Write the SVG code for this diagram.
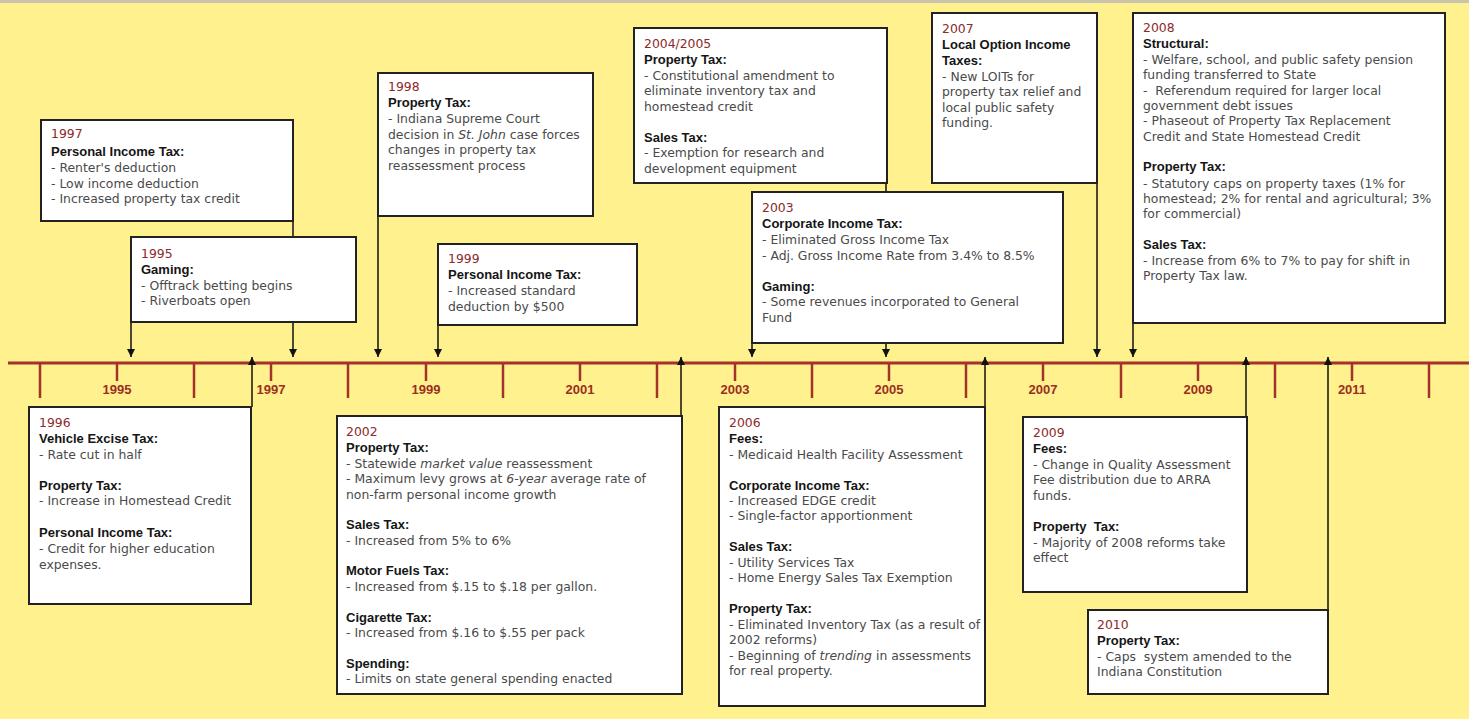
<svg xmlns="http://www.w3.org/2000/svg" width="1469" height="719" viewBox="0 0 1469 719">
<defs>
<marker id="ah" viewBox="0 0 10 10" refX="10" refY="5" markerWidth="8" markerHeight="8" markerUnits="userSpaceOnUse" orient="auto"><path d="M0,0 L10,5 L0,10 z" fill="#111"/></marker>
<style>
.box{fill:#fff;stroke:#222;stroke-width:2}
.t{font-family:"DejaVu Sans","Liberation Sans",sans-serif;font-size:12.4px;fill:#4a4a4a}
.y{fill:#8c2a2a}
.h{fill:#151515;font-weight:bold;font-family:"Liberation Sans",Arial,sans-serif;font-size:13px}
.i{font-style:italic}
.con{stroke:#111;stroke-width:1.5;fill:none;marker-end:url(#ah)}
.axis{stroke:#a3322a;stroke-width:3}
.tick{stroke:#a3322a;stroke-width:2.5}
.yl{font-family:"Liberation Sans",Arial,sans-serif;font-size:13px;font-weight:bold;fill:#9a2f22;text-anchor:middle}
</style>
</defs>
<rect x="0" y="0" width="1469" height="719" fill="#fff18e"/>
<line x1="0" y1="1.5" x2="1469" y2="1.5" stroke="#c8c4b0" stroke-width="3"/>
<g id="timeline">
<line class="axis" x1="8" y1="363" x2="1469" y2="363"/>
<g class="tick">
<line x1="40" y1="363" x2="40" y2="398"/><line x1="194" y1="363" x2="194" y2="398"/><line x1="348" y1="363" x2="348" y2="398"/><line x1="503" y1="363" x2="503" y2="398"/><line x1="657" y1="363" x2="657" y2="398"/><line x1="812" y1="363" x2="812" y2="398"/><line x1="966" y1="363" x2="966" y2="398"/><line x1="1121" y1="363" x2="1121" y2="398"/><line x1="1275" y1="363" x2="1275" y2="398"/><line x1="1429" y1="363" x2="1429" y2="398"/>
<line x1="117" y1="363" x2="117" y2="381"/><line x1="271" y1="363" x2="271" y2="381"/><line x1="426" y1="363" x2="426" y2="381"/><line x1="580" y1="363" x2="580" y2="381"/><line x1="735" y1="363" x2="735" y2="381"/><line x1="889" y1="363" x2="889" y2="381"/><line x1="1043" y1="363" x2="1043" y2="381"/><line x1="1198" y1="363" x2="1198" y2="381"/><line x1="1352" y1="363" x2="1352" y2="381"/>
</g>
<text class="yl" x="117" y="394">1995</text><text class="yl" x="271" y="394">1997</text><text class="yl" x="426" y="394">1999</text><text class="yl" x="580" y="394">2001</text><text class="yl" x="735" y="394">2003</text><text class="yl" x="889" y="394">2005</text><text class="yl" x="1043" y="394">2007</text><text class="yl" x="1198" y="394">2009</text><text class="yl" x="1352" y="394">2011</text>
</g>
<g id="connectors">
<line class="con" x1="293" y1="221" x2="293" y2="357"/>
<line class="con" x1="131" y1="322" x2="131" y2="357"/>
<line class="con" x1="378" y1="216" x2="378" y2="357"/>
<line class="con" x1="438" y1="325" x2="438" y2="357"/>
<line class="con" x1="886" y1="183" x2="886" y2="357"/>
<line class="con" x1="752" y1="343" x2="752" y2="357"/>
<line class="con" x1="1097" y1="183" x2="1097" y2="357"/>
<line class="con" x1="1133" y1="323" x2="1133" y2="357"/>
<line class="con" x1="252" y1="407" x2="252" y2="357"/>
<line class="con" x1="681" y1="416" x2="681" y2="357"/>
<line class="con" x1="985" y1="407" x2="985" y2="357"/>
<line class="con" x1="1246" y1="417" x2="1246" y2="357"/>
<line class="con" x1="1328" y1="610" x2="1328" y2="357"/>
</g>
<g id="n1997">
<rect class="box" x="41" y="120" width="252" height="101"/>
<text class="t" x="51" y="138"><tspan class="y">1997</tspan><tspan class="h" x="51" dy="18">Personal Income Tax:</tspan><tspan x="51" dy="16">- Renter's deduction</tspan><tspan x="51" dy="15.5">- Low income deduction</tspan><tspan x="51" dy="15.5">- Increased property tax credit</tspan></text>
</g>
<g id="n1995">
<rect class="box" x="131" y="237" width="225" height="85"/>
<text class="t" x="141" y="258"><tspan class="y">1995</tspan><tspan class="h" x="141" dy="16">Gaming:</tspan><tspan x="141" dy="15.5">- Offtrack betting begins</tspan><tspan x="141" dy="15.5">- Riverboats open</tspan></text>
</g>
<g id="n1998">
<rect class="box" x="378" y="73" width="215" height="143"/>
<text class="t" x="388" y="91"><tspan class="y">1998</tspan><tspan class="h" x="388" dy="16">Property Tax:</tspan><tspan x="388" dy="16">- Indiana Supreme Court</tspan><tspan x="388" dy="15.5">decision in <tspan class="i">St. John</tspan> case forces</tspan><tspan x="388" dy="15.5">changes in property tax</tspan><tspan x="388" dy="15.5">reassessment process</tspan></text>
</g>
<g id="n1999">
<rect class="box" x="438" y="244" width="199" height="81"/>
<text class="t" x="448" y="263"><tspan class="y">1999</tspan><tspan class="h" x="448" dy="16">Personal Income Tax:</tspan><tspan x="448" dy="16">- Increased standard</tspan><tspan x="448" dy="16">deduction by $500</tspan></text>
</g>
<g id="n2004">
<rect class="box" x="634" y="28" width="253" height="155"/>
<text class="t" x="644" y="48"><tspan class="y">2004/2005</tspan><tspan class="h" x="644" dy="16">Property Tax:</tspan><tspan x="644" dy="15.5">- Constitutional amendment to</tspan><tspan x="644" dy="15.5">eliminate inventory tax and</tspan><tspan x="644" dy="15.5">homestead credit</tspan><tspan class="h" x="644" dy="31">Sales Tax:</tspan><tspan x="644" dy="15.5">- Exemption for research and</tspan><tspan x="644" dy="15.5">development equipment</tspan></text>
</g>
<g id="n2003">
<rect class="box" x="752" y="192" width="311" height="151"/>
<text class="t" x="762" y="212"><tspan class="y">2003</tspan><tspan class="h" x="762" dy="16">Corporate Income Tax:</tspan><tspan x="762" dy="16">- Eliminated Gross Income Tax</tspan><tspan x="762" dy="15.5">- Adj. Gross Income Rate from 3.4% to 8.5%</tspan><tspan class="h" x="762" dy="31">Gaming:</tspan><tspan x="762" dy="15.5">- Some revenues incorporated to General</tspan><tspan x="762" dy="15.5">Fund</tspan></text>
</g>
<g id="n2007">
<rect class="box" x="932" y="13" width="165" height="170"/>
<text class="t" x="942" y="33"><tspan class="y">2007</tspan><tspan class="h" x="942" dy="16">Local Option Income</tspan><tspan class="h" x="942" dy="16">Taxes:</tspan><tspan x="942" dy="15.5">- New LOITs for</tspan><tspan x="942" dy="15.5">property tax relief and</tspan><tspan x="942" dy="15.5">local public safety</tspan><tspan x="942" dy="15.5">funding.</tspan></text>
</g>
<g id="n2008">
<rect class="box" x="1133" y="13" width="312" height="310"/>
<text class="t" x="1143" y="32" xml:space="preserve"><tspan class="y">2008</tspan><tspan class="h" x="1143" dy="16">Structural:</tspan><tspan x="1143" dy="16">- Welfare, school, and public safety pension</tspan><tspan x="1143" dy="15.3">funding transferred to State</tspan><tspan x="1143" dy="15.3">-  Referendum required for larger local</tspan><tspan x="1143" dy="15.3">government debt issues</tspan><tspan x="1143" dy="15.3">- Phaseout of Property Tax Replacement</tspan><tspan x="1143" dy="15.3">Credit and State Homestead Credit</tspan><tspan class="h" x="1143" dy="30.5">Property Tax:</tspan><tspan x="1143" dy="16.5">- Statutory caps on property taxes (1% for</tspan><tspan x="1143" dy="15.3">homestead; 2% for rental and agricultural; 3%</tspan><tspan x="1143" dy="15.3">for commercial)</tspan><tspan class="h" x="1143" dy="30.5">Sales Tax:</tspan><tspan x="1143" dy="16">- Increase from 6% to 7% to pay for shift in</tspan><tspan x="1143" dy="15.3">Property Tax law.</tspan></text>
</g>
<g id="n1996">
<rect class="box" x="29" y="407" width="222" height="197"/>
<text class="t" x="39" y="427"><tspan class="y">1996</tspan><tspan class="h" x="39" dy="16">Vehicle Excise Tax:</tspan><tspan x="39" dy="15.5">- Rate cut in half</tspan><tspan class="h" x="39" dy="31">Property Tax:</tspan><tspan x="39" dy="15.5">- Increase in Homestead Credit</tspan><tspan class="h" x="39" dy="32">Personal Income Tax:</tspan><tspan x="39" dy="16">- Credit for higher education</tspan><tspan x="39" dy="15.5">expenses.</tspan></text>
</g>
<g id="n2002">
<rect class="box" x="337" y="416" width="345" height="278"/>
<text class="t" x="346" y="436"><tspan class="y">2002</tspan><tspan class="h" x="346" dy="16">Property Tax:</tspan><tspan x="346" dy="16">- Statewide <tspan class="i">market value</tspan> reassessment</tspan><tspan x="346" dy="15.3">- Maximum levy grows at <tspan class="i">6-year</tspan> average rate of</tspan><tspan x="346" dy="15.3">non-farm personal income growth</tspan><tspan class="h" x="346" dy="30.7">Sales Tax:</tspan><tspan x="346" dy="15.3">- Increased from 5% to 6%</tspan><tspan class="h" x="346" dy="30.7">Motor Fuels Tax:</tspan><tspan x="346" dy="15.3">- Increased from $.15 to $.18 per gallon.</tspan><tspan class="h" x="346" dy="31.5">Cigarette Tax:</tspan><tspan x="346" dy="15.3">- Increased from $.16 to $.55 per pack</tspan><tspan class="h" x="346" dy="30.7">Spending:</tspan><tspan x="346" dy="15.3">- Limits on state general spending enacted</tspan></text>
</g>
<g id="n2006">
<rect class="box" x="719" y="407" width="266" height="299"/>
<text class="t" x="729" y="427"><tspan class="y">2006</tspan><tspan class="h" x="729" dy="16">Fees:</tspan><tspan x="729" dy="16">- Medicaid Health Facility Assessment</tspan><tspan class="h" x="729" dy="30.5">Corporate Income Tax:</tspan><tspan x="729" dy="15.3">- Increased EDGE credit</tspan><tspan x="729" dy="15.6">- Single-factor apportionment</tspan><tspan class="h" x="729" dy="31">Sales Tax:</tspan><tspan x="729" dy="15.3">- Utility Services Tax</tspan><tspan x="729" dy="15.6">- Home Energy Sales Tax Exemption</tspan><tspan class="h" x="729" dy="31">Property Tax:</tspan><tspan x="729" dy="15.3">- Eliminated Inventory Tax (as a result of</tspan><tspan x="729" dy="15.3">2002 reforms)</tspan><tspan x="729" dy="15.6">- Beginning of <tspan class="i">trending</tspan> in assessments</tspan><tspan x="729" dy="15.3">for real property.</tspan></text>
</g>
<g id="n2009">
<rect class="box" x="1023" y="417" width="224" height="175"/>
<text class="t" x="1033" y="437" xml:space="preserve"><tspan class="y">2009</tspan><tspan class="h" x="1033" dy="16">Fees:</tspan><tspan x="1033" dy="16">- Change in Quality Assessment</tspan><tspan x="1033" dy="15.3">Fee distribution due to ARRA</tspan><tspan x="1033" dy="15.3">funds.</tspan><tspan class="h" x="1033" dy="31">Property  Tax:</tspan><tspan x="1033" dy="16">- Majority of 2008 reforms take</tspan><tspan x="1033" dy="15.3">effect</tspan></text>
</g>
<g id="n2010">
<rect class="box" x="1088" y="610" width="240" height="84"/>
<text class="t" x="1097" y="629" xml:space="preserve"><tspan class="y">2010</tspan><tspan class="h" x="1097" dy="16">Property Tax:</tspan><tspan x="1097" dy="16">- Caps  system amended to the</tspan><tspan x="1097" dy="15.3">Indiana Constitution</tspan></text>
</g>
</svg>
